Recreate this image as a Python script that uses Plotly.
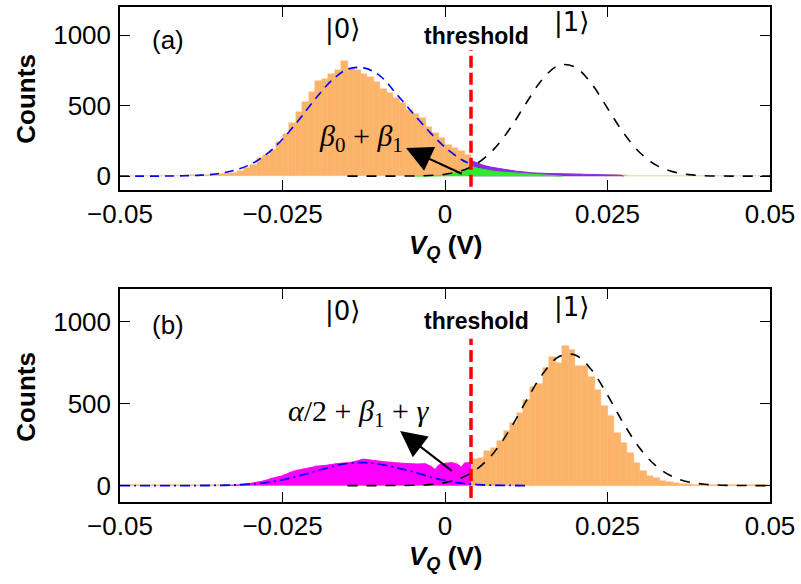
import plotly.graph_objects as go

# ---------------- data ----------------
X_MIN = -0.05
BIN_WIDTH = 0.001
THRESHOLD = 0.004
THRESH_Y = [-75, 895]

x_tickvals = [-0.05, -0.025, 0, 0.025, 0.05]
x_ticktext = ["\u22120.05", "\u22120.025", "0", "0.025", "0.05"]
y_tickvals = [0, 500, 1000]
y_ticktext = ["0", "500", "1000"]

# panel (a) histogram counts, 100 bins from -0.05 to 0.05
a_counts = [2, 2, 2, 2, 2, 3, 3, 3, 3, 4, 5, 6, 7, 9,
            12, 15, 20, 25, 40, 59, 82, 129, 150, 185, 240, 300, 380, 458, 528, 599,
            674, 692, 728, 751, 815, 768, 751, 728, 704, 669, 620, 590, 551, 516, 470,
            440, 411, 352, 305, 270, 223, 200, 175, 153,
            90, 72, 58, 47, 40, 34, 29, 25, 22, 19, 17, 16, 15, 14, 13, 12, 12, 11, 10, 9,
            8, 7, 6, 5, 4, 4, 3, 3, 3, 3, 3, 3, 3, 3, 3, 3, 3, 3, 3, 3, 3, 3, 3, 3, 3, 3]

# panel (a) purple and green regions
purple_x = [0.0041, 0.005, 0.0059, 0.0072, 0.0085, 0.0098, 0.011, 0.0123, 0.0136, 0.016,
            0.0187, 0.021, 0.0238, 0.0255, 0.0269, 0.0275]
purple_y = [110, 92, 77, 63, 52, 43, 35, 29, 23, 19, 16, 14, 12, 10, 7, 0]
green_x = [-0.005, -0.003, -0.001, 0.0005, 0.0015, 0.0023, 0.0032, 0.0041, 0.005, 0.0059,
           0.0072, 0.0085, 0.011, 0.0136, 0.016, 0.018]
green_y = [0, 1, 3, 10, 20, 33, 50, 70, 56, 47, 37, 30, 23, 12, 5, 0]

# panel (a) fit curves
blue_a_x = [-0.05, -0.0475, -0.045, -0.0425, -0.04, -0.0375, -0.035, -0.0325, -0.03, -0.0275,
            -0.025, -0.0225, -0.02, -0.0175, -0.015, -0.0125, -0.01, -0.0075, -0.005, -0.0025,
            0.0, 0.0025, 0.0035]
blue_a_y = [0, 0, 0.3, 1, 3, 7, 17, 40, 82, 154, 262, 398, 545, 676, 758, 768, 712, 585, 450,
            320, 205, 118, 95]
black_x = [-0.015, -0.0125, -0.01, -0.0075, -0.005, -0.0025, 0.0, 0.0025, 0.005, 0.0075, 0.01,
           0.0125, 0.015, 0.0175, 0.02, 0.0225, 0.025, 0.0275, 0.03, 0.0325, 0.035, 0.0375,
           0.04, 0.0425, 0.045, 0.0475, 0.05]
black_a_y = [0, 0, 0, 0.3, 1.2, 4.3, 14, 38, 92, 190, 338, 519, 688, 786, 774, 658, 482, 305,
             166, 78, 32, 11, 3, 1, 0, 0, 0]

# panel (b) histogram counts, 100 bins
b_counts = [3, 3, 3, 3, 3, 3, 3, 3, 3, 3, 3, 3, 3, 3, 3, 3,
            2, 3, 5, 9, 15, 22, 32, 45, 55, 65, 85, 95, 103, 110, 118, 123, 128, 134, 137, 140,
            150, 160, 154, 148, 145, 142, 139, 135, 132, 131, 133, 120, 100, 128, 137, 138, 115, 139,
            165, 168, 212, 232, 272, 333, 383, 444, 524, 605, 621, 716, 786, 746, 851, 831,
            730, 730, 665, 585, 484, 423, 323, 262, 202, 141, 91, 60, 45, 30, 20, 16, 12, 8, 5,
            4, 3, 3, 3, 3, 3, 3, 3, 3, 3, 3]

# panel (b) magenta region
mag_x = [-0.034, -0.032, -0.030, -0.028, -0.0265, -0.025, -0.0233, -0.021, -0.0197, -0.018,
         -0.0165, -0.015, -0.0135, -0.0126, -0.0115, -0.0105, -0.0095, -0.008, -0.0069, -0.0055,
         -0.0044, -0.003, -0.0022, -0.0015, -0.001, 0.0, 0.001, 0.002, 0.0025, 0.003, 0.004]
mag_y = [0, 3, 12, 28, 45, 60, 88, 105, 118, 125, 135, 138, 150, 162, 155, 148, 146, 140, 136,
         132, 131, 133, 118, 98, 125, 135, 140, 128, 112, 138, 140]

# panel (b) fit curves
blue_b_x = [-0.05, -0.0475, -0.045, -0.0425, -0.04, -0.0375, -0.035, -0.0325, -0.03, -0.0275,
            -0.025, -0.0225, -0.02, -0.0175, -0.015, -0.0125, -0.01, -0.0075, -0.005, -0.0025,
            0.0, 0.0025, 0.005, 0.0075, 0.01, 0.0125]
blue_b_y = [0, 0, 0, 0, 0.2, 0.5, 1.3, 3.6, 8.6, 18, 35, 59, 87, 115, 135, 140, 130, 110, 85,
            55, 32, 15, 6, 2.4, 1, 0]
black_b_y = [0, 0, 0.1, 0.5, 1.9, 6, 18, 46, 103, 201, 344, 517, 680, 786, 797, 708, 552, 377,
             226, 119, 55, 22, 8, 2.5, 0.7, 0, 0]

# ---------------- style ----------------
ORANGE = "#FCB36A"
PURPLE = "#8A2BE2"
GREEN = "#2EEA2E"
MAGENTA = "#FF00FF"
SANS = "Liberation Sans, Arial, Helvetica, sans-serif"
SERIF = "Liberation Serif, DejaVu Serif, serif"


def centers(n):
    return [X_MIN + BIN_WIDTH / 2 + i * BIN_WIDTH for i in range(n)]


fig = go.Figure()

# ---- panel (a)
fig.add_bar(x=centers(len(a_counts)), y=a_counts, width=BIN_WIDTH,
            marker=dict(color=ORANGE, line=dict(width=0.4, color=ORANGE)),
            xaxis="x", yaxis="y", showlegend=False)
fig.add_scatter(x=purple_x, y=purple_y, mode="lines", fill="tozeroy", fillcolor=PURPLE,
                line=dict(color=PURPLE, width=1), xaxis="x", yaxis="y", showlegend=False)
fig.add_scatter(x=green_x, y=green_y, mode="lines", fill="tozeroy", fillcolor=GREEN,
                line=dict(color=GREEN, width=1), xaxis="x", yaxis="y", showlegend=False)
fig.add_scatter(x=blue_a_x, y=blue_a_y, mode="lines", line=dict(color="#0000FF", width=1.6,
                dash="9px,6px", shape="spline"), xaxis="x", yaxis="y", showlegend=False)
fig.add_scatter(x=black_x, y=black_a_y, mode="lines", line=dict(color="black", width=1.6,
                dash="10px,9px", shape="spline"), xaxis="x", yaxis="y", showlegend=False)

# ---- panel (b)
fig.add_bar(x=centers(len(b_counts)), y=b_counts, width=BIN_WIDTH,
            marker=dict(color=ORANGE, line=dict(width=0.4, color=ORANGE)),
            xaxis="x2", yaxis="y2", showlegend=False)
fig.add_scatter(x=mag_x, y=mag_y, mode="lines", fill="tozeroy", fillcolor=MAGENTA,
                line=dict(color=MAGENTA, width=1), xaxis="x2", yaxis="y2", showlegend=False)
fig.add_scatter(x=blue_b_x, y=blue_b_y, mode="lines", line=dict(color="#0000FF", width=1.8,
                dash="10px,4px,2px,4px", shape="spline"), xaxis="x2", yaxis="y2",
                showlegend=False)
fig.add_scatter(x=black_x, y=black_b_y, mode="lines", line=dict(color="black", width=1.6,
                dash="10px,9px", shape="spline"), xaxis="x2", yaxis="y2", showlegend=False)

axis_common = dict(showgrid=False, zeroline=False, showline=True, linecolor="black",
                   linewidth=1.5, mirror="ticks", ticks="inside", ticklen=10,
                   tickcolor="black", tickwidth=1,
                   tickfont=dict(family=SANS, size=26, color="black"))

xcommon = dict(axis_common, range=[-0.05, 0.05], tickvals=x_tickvals, ticktext=x_ticktext,
               ticklabelstandoff=0)
ycommon = dict(axis_common, range=[-100, 1200], tickvals=y_tickvals, ticktext=y_ticktext,
               ticklabelstandoff=2)

fig.update_layout(
    width=801, height=584,
    margin=dict(l=120, r=31, t=5, b=82),
    plot_bgcolor="white", paper_bgcolor="white",
    barmode="overlay", bargap=0,
    xaxis=dict(xcommon, domain=[0, 1], anchor="y"),
    yaxis=dict(ycommon, domain=[0.6298, 1], anchor="x"),
    xaxis2=dict(xcommon, domain=[0, 1], anchor="y2"),
    yaxis2=dict(ycommon, domain=[0, 0.4306], anchor="x2"),
)

# threshold lines
for yref in ["y", "y2"]:
    fig.add_shape(type="line", xref=yref.replace("y", "x"), yref=yref,
                  x0=THRESHOLD, x1=THRESHOLD, y0=THRESH_Y[0], y1=THRESH_Y[1],
                  line=dict(color="#FF0000", width=3.5, dash="12px,5px"), layer="above")

ann = []
# panel labels and state labels
for xr, yr, lab, y_lab, y0, y1, y_thr in [("x", "y", "(a)", 968, 1042, 1092, 993),
                                           ("x2", "y2", "(b)", 977, 1063, 1088, 1003)]:
    ann.append(dict(x=-0.0426, y=y_lab, xref=xr, yref=yr, text=lab, showarrow=False,
                    font=dict(family=SANS, size=26, color="black")))
    ann.append(dict(x=-0.0158, y=y0, xref=xr, yref=yr, text="|0\u27e9", showarrow=False,
                    font=dict(family="DejaVu Sans, " + SANS, size=26, color="black")))
    ann.append(dict(x=0.0195, y=y1, xref=xr, yref=yr, text="|1\u27e9", showarrow=False,
                    font=dict(family="DejaVu Sans, " + SANS, size=26, color="black")))
    ann.append(dict(x=0.0049, y=y_thr, xref=xr, yref=yr, text="<b>threshold</b>",
                    showarrow=False, font=dict(family=SANS, size=23, color="black")))

# arrows
ann.append(dict(x=-0.006, y=200, ax=0.0028, ay=12, xref="x", yref="y", axref="x", ayref="y",
                text="", showarrow=True, arrowhead=2, arrowsize=2.6, arrowwidth=2,
                arrowcolor="black", standoff=0, startstandoff=0))
ann.append(dict(x=-0.0069, y=333, ax=0.00128, ay=83, xref="x2", yref="y2", axref="x2",
                ayref="y2", text="", showarrow=True, arrowhead=2, arrowsize=2.6, arrowwidth=2,
                arrowcolor="black", standoff=0, startstandoff=0))
ann.append(dict(x=-0.0129, y=268, xref="x", yref="y",
                text="<i>\u03b2</i><sub>0</sub> + <i>\u03b2</i><sub>1</sub>", showarrow=False,
                font=dict(family=SERIF, size=30, color="black")))
ann.append(dict(x=-0.0133, y=444, xref="x2", yref="y2",
                text="<i>\u03b1</i>/2 + <i>\u03b2</i><sub>1</sub> + <i>\u03b3</i>",
                showarrow=False, font=dict(family=SERIF, size=30, color="black")))

# axis titles (positions in paper fractions of the plotting height)
for ypos in [0.815, 0.213]:
    ann.append(dict(x=-0.146, y=ypos, xref="paper", yref="paper", text="<b>Counts</b>",
                    textangle=-90, showarrow=False, xanchor="center", yanchor="middle",
                    font=dict(family=SANS, size=26, color="black")))
for ypos in [0.517, -0.112]:
    ann.append(dict(x=0.5, y=ypos, xref="paper", yref="paper",
                    text="<b><i>V</i><sub><i>Q</i></sub> (V)</b>", showarrow=False,
                    xanchor="center", yanchor="middle",
                    font=dict(family=SANS, size=26, color="black")))

fig.update_layout(annotations=ann)
fig.write_html("out.html", post_script="document.body.style.margin='0';",
               config={"displayModeBar": False})
